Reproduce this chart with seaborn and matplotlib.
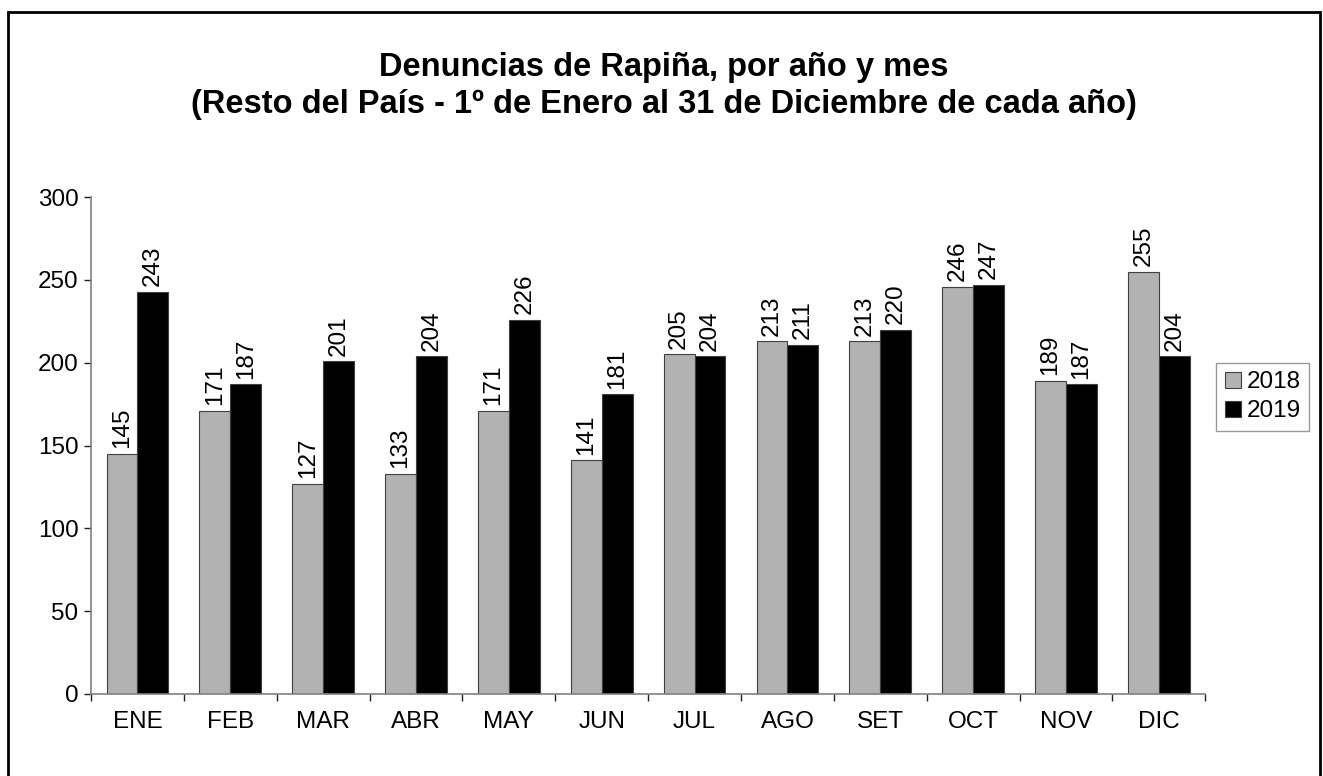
import seaborn as sns
import matplotlib.pyplot as plt
import pandas as pd
from matplotlib.patches import Rectangle

# data
meses = ['ENE', 'FEB', 'MAR', 'ABR', 'MAY', 'JUN', 'JUL', 'AGO', 'SET', 'OCT', 'NOV', 'DIC']
v2018 = [145, 171, 127, 133, 171, 141, 205, 213, 213, 246, 189, 255]
v2019 = [243, 187, 201, 204, 226, 181, 204, 211, 220, 247, 187, 204]

df = pd.DataFrame({
    'mes': meses * 2,
    'valor': v2018 + v2019,
    'anio': ['2018'] * 12 + ['2019'] * 12,
})

sns.set_style('white')
plt.rcParams['font.family'] = ['Liberation Sans', 'DejaVu Sans']
plt.rcParams['text.color'] = 'black'

fig = plt.figure(figsize=(13.23, 7.76), dpi=100)
ax = fig.add_axes([0.0688, 0.1057, 0.8422, 0.6403])

sns.barplot(data=df, x='mes', y='valor', hue='anio', order=meses,
            palette=['#b2b2b2', '#000000'], width=0.665, gap=0,
            edgecolor='#404040', linewidth=0.8, ax=ax)

for cont in ax.containers:
    ax.bar_label(cont, rotation=90, padding=4, fontsize=17.5, color='black')

ax.set_ylim(0, 300)
ax.set_xlim(-0.5, 11.5)
ax.set_yticks(range(0, 301, 50))
ax.set_xlabel('')
ax.set_ylabel('')
ax.tick_params(axis='y', labelsize=17.5, length=5, width=1, color='#202020',
               labelcolor='black', left=True, pad=4)
ax.tick_params(axis='x', which='major', labelsize=17.5, length=0, pad=12, labelcolor='black')
ax.set_xticks([i - 0.5 for i in range(13)], minor=True)
ax.tick_params(axis='x', which='minor', length=5, width=1, color='#202020', bottom=True)

for s in ['top', 'right']:
    ax.spines[s].set_visible(False)
for s in ['left', 'bottom']:
    ax.spines[s].set_color('#808080')
    ax.spines[s].set_linewidth(1.2)

ax.legend(loc='center left', bbox_to_anchor=(1.01, 0.598), fontsize=17.5,
          frameon=True, fancybox=False, edgecolor='#808080',
          handlelength=0.65, handleheight=0.65, handletextpad=0.25,
          borderpad=0.35, labelspacing=0.3, borderaxespad=0)

fig.text(0.502, 0.889, 'Denuncias de Rapiña, por año y mes\n(Resto del País - 1º de Enero al 31 de Diciembre de cada año)',
         ha='center', va='center', fontsize=23.5, fontweight='bold', linespacing=1.25)

fig.patches.append(Rectangle((0.006, -0.02), 0.992, 1.004, transform=fig.transFigure,
                             fill=False, edgecolor='black', linewidth=2))

plt.savefig('out.png', dpi=100)
